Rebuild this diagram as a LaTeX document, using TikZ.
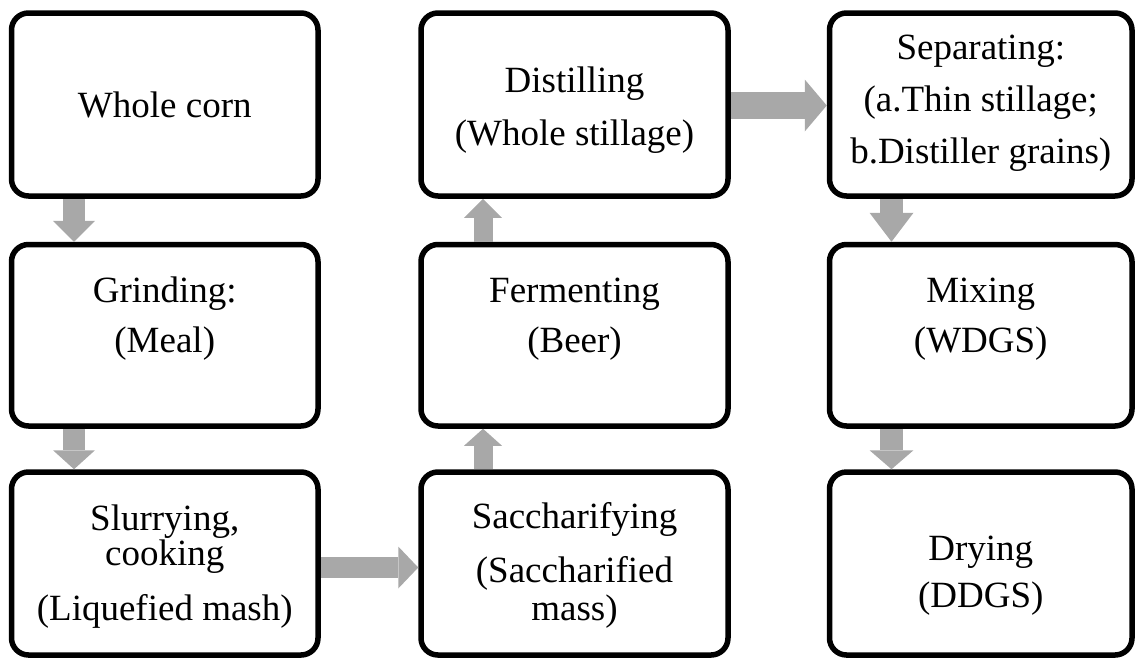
\documentclass[tikz,border=0pt]{standalone}
\usepackage{fontspec}
\setmainfont{Liberation Serif}
\usetikzlibrary{arrows.meta}
\definecolor{arrowgray}{RGB}{168,168,168}
\begin{document}
\begin{tikzpicture}[x=1pt,y=-1pt,
  box/.style={draw=black, line width=5.5pt, rounded corners=17pt, inner sep=0pt,
    align=center, font=\fontsize{37pt}{37pt}\selectfont},
  blk/.style args={#1/#2/#3}{draw=arrowgray, line width=#1,
    -{Triangle[length=#3,width=#2,line width=0pt]}},
]
\useasboundingbox (0,0) rectangle (1135,657);
% column 1
\node[box, minimum width=306.5pt, minimum height=183pt, text height=82.5pt, text depth=57.5pt]
  (corn) at (164.75,104.5) {Whole corn};
\node[box, minimum width=306.5pt, minimum height=181.5pt, text height=86.75pt, text depth=53.25pt]
  (grind) at (164.75,335.25) {Grinding:\\[13pt](Meal)};
\node[box, minimum width=306.5pt, minimum height=183pt, text height=126.5pt, text depth=13.5pt]
  (slurry) at (164.75,563.5) {Slurrying,\\[-2pt]cooking\\[18pt](Liquefied mash)};
% column 2
\node[box, minimum width=307pt, minimum height=183pt, text height=126.5pt, text depth=13.5pt]
  (sacch) at (574.5,563.5) {Saccharifying\\[17pt](Saccharified\\[1pt]mass)};
\node[box, minimum width=307pt, minimum height=181.5pt, text height=86.75pt, text depth=53.25pt]
  (ferm) at (574.5,335.25) {Fermenting\\[13pt](Beer)};
\node[box, minimum width=307pt, minimum height=183pt, text height=110.5pt, text depth=29.5pt]
  (dist) at (574.5,104.5) {Distilling\\[16pt](Whole stillage)};
% column 3
\node[box, minimum width=302.5pt, minimum height=183pt, text height=128.5pt, text depth=11.5pt]
  (sep) at (980.75,104.5) {Separating:\\[15pt](a.Thin stillage;\\[15pt]b.Distiller grains)};
\node[box, minimum width=302.5pt, minimum height=181.5pt, text height=86.75pt, text depth=53.25pt]
  (mix) at (980.75,335.25) {Mixing\\[13pt](WDGS)};
\node[box, minimum width=302.5pt, minimum height=183pt, text height=113.5pt, text depth=26.5pt]
  (dry) at (980.75,563.5) {Drying\\[10pt](DDGS)};
% arrows
\draw[blk={22pt/42pt/21pt}] ([xshift=-90.75pt]corn.south) -- ([xshift=-90.75pt]grind.north);
\draw[blk={22pt/42pt/19pt}] ([xshift=-90.75pt]grind.south) -- ([xshift=-90.75pt]slurry.north);
\draw[blk={21pt/42pt/20pt}] ([yshift=-4pt]slurry.east) -- ([yshift=-4pt]sacch.west);
\draw[blk={19pt/38pt/17pt}] ([xshift=-91.5pt]sacch.north) -- ([xshift=-91.5pt]ferm.south);
\draw[blk={19pt/38pt/19pt}] ([xshift=-91.5pt]ferm.north) -- ([xshift=-91.5pt]dist.south);
\draw[blk={27pt/52pt/22pt}] ([yshift=-1pt]dist.east) -- ([yshift=-1pt]sep.west);
\draw[blk={23pt/44pt/29pt}] ([xshift=-89.25pt]sep.south) -- ([xshift=-89.25pt]mix.north);
\draw[blk={23pt/44pt/19pt}] ([xshift=-89.25pt]mix.south) -- ([xshift=-89.25pt]dry.north);
\end{tikzpicture}
\end{document}
